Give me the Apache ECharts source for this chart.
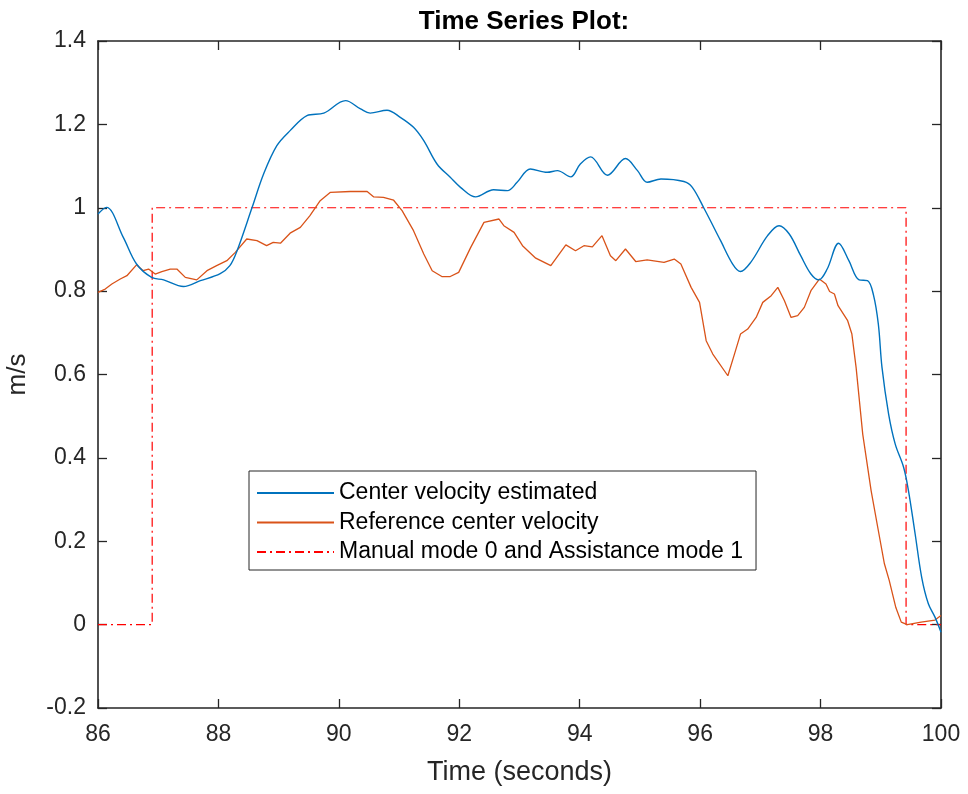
<!DOCTYPE html>
<html>
<head>
<meta charset="utf-8">
<script src="https://cdn.jsdelivr.net/npm/echarts@6/dist/echarts.min.js"></script>
<style>html,body{margin:0;padding:0;background:#fff}#c{width:968px;height:794px}</style>
</head>
<body>
<div id="c"></div>
<script>
const titleText = 'Time Series Plot:';
const xName = 'Time (seconds)';
const yName = 'm/s';
const seriesNames = ['Center velocity estimated', 'Reference center velocity', 'Manual mode 0 and Assistance mode 1'];

const estT = [86.0,86.14,86.42,86.64,86.89,87.09,87.42,87.70,88.03,88.19,88.31,88.56,88.75,88.97,89.19,89.47,89.75,90.11,90.36,90.52,90.80,91.02,91.24,91.41,91.63,91.85,92.02,92.27,92.57,92.80,92.96,93.18,93.46,93.63,93.85,94.01,94.18,94.46,94.76,94.96,95.12,95.35,95.73,95.87,96.07,96.34,96.54,96.67,96.84,97.12,97.31,97.48,97.67,97.84,97.97,98.11,98.30,98.47,98.64,98.78,98.88,98.96,99.02,99.13,99.24,99.38,99.46,99.57,99.68,99.79,99.90,100.0];
const estV = [0.985,1.001,0.929,0.865,0.833,0.827,0.811,0.825,0.842,0.861,0.897,1.001,1.081,1.149,1.185,1.221,1.227,1.257,1.237,1.227,1.234,1.217,1.193,1.161,1.105,1.073,1.049,1.026,1.043,1.041,1.061,1.093,1.085,1.089,1.074,1.105,1.122,1.078,1.118,1.089,1.061,1.069,1.063,1.049,0.997,0.921,0.865,0.847,0.869,0.933,0.957,0.937,0.885,0.841,0.827,0.853,0.915,0.873,0.827,0.825,0.79,0.72,0.617,0.505,0.433,0.377,0.321,0.218,0.113,0.050,0.018,-0.018];

const refT = [86.0,86.12,86.23,86.37,86.48,86.64,86.75,86.84,86.95,87.06,87.20,87.31,87.45,87.64,87.81,87.97,88.14,88.28,88.47,88.64,88.80,88.91,89.03,89.19,89.36,89.52,89.69,89.86,90.19,90.47,90.58,90.74,90.91,91.05,91.24,91.41,91.55,91.71,91.85,91.99,92.19,92.41,92.66,92.74,92.91,93.05,93.27,93.52,93.77,93.93,94.07,94.21,94.37,94.51,94.60,94.76,94.93,95.12,95.40,95.57,95.68,95.85,95.99,96.10,96.21,96.46,96.57,96.67,96.79,96.93,97.04,97.18,97.29,97.40,97.51,97.62,97.73,97.84,97.98,98.09,98.15,98.23,98.29,98.45,98.52,98.59,98.70,98.84,98.95,99.06,99.14,99.25,99.34,99.44,99.67,99.90,100.0];
const refV = [0.797,0.805,0.817,0.829,0.837,0.863,0.849,0.853,0.841,0.847,0.853,0.853,0.833,0.827,0.849,0.861,0.873,0.893,0.925,0.921,0.909,0.917,0.915,0.939,0.953,0.981,1.017,1.037,1.039,1.039,1.026,1.025,1.018,0.993,0.945,0.889,0.849,0.835,0.835,0.845,0.905,0.965,0.973,0.957,0.941,0.909,0.879,0.861,0.911,0.897,0.909,0.906,0.933,0.885,0.873,0.901,0.871,0.875,0.869,0.877,0.865,0.809,0.773,0.681,0.649,0.597,0.649,0.697,0.709,0.737,0.773,0.789,0.809,0.777,0.737,0.741,0.761,0.801,0.829,0.817,0.799,0.793,0.765,0.729,0.697,0.617,0.457,0.321,0.233,0.146,0.106,0.041,0.006,0.0,0.006,0.011,0.022];

const modeT = [86.0,86.9,86.9,99.42,99.42,100.0];
const modeV = [0,0,1,1,0,0];

const zip = (a,b) => a.map((v,i)=>[v,b[i]]);
const font = 'Arial, "Liberation Sans", Helvetica, sans-serif';
const axisCol = '#262626';

const chart = echarts.init(document.getElementById('c'), null, {renderer:'canvas'});
chart.setOption({
  animation:false,
  backgroundColor:'#fff',
  title:{text:titleText,left:519,top:4,textAlign:'center',textStyle:{fontFamily:font,fontSize:26,fontWeight:'bold',color:'#000'}},
  grid:{left:98,right:27,top:41,bottom:86,containLabel:false,outerBoundsMode:'none'},
  legend:{
    orient:'vertical',left:249,top:471,
    data:seriesNames,
    itemWidth:77,itemHeight:14,itemGap:3.5,
    padding:[9,13,5,7],
    borderColor:axisCol,borderWidth:1,backgroundColor:'#fff',borderRadius:0,
    itemStyle:{opacity:0},
    textStyle:{fontFamily:font,fontSize:23,color:'#000',lineHeight:26}
  },
  xAxis:[
    {type:'value',min:86,max:100,interval:2,position:'bottom',
     name:xName,nameLocation:'middle',nameGap:51,
     nameTextStyle:{fontFamily:font,fontSize:27,color:'#262626'},
     axisLine:{show:true,onZero:false,lineStyle:{color:axisCol,width:1.6}},
     axisTick:{show:true,inside:true,length:9,lineStyle:{color:axisCol,width:1.3}},
     axisLabel:{fontFamily:font,fontSize:23,color:'#262626',margin:15},
     splitLine:{show:false}},
    {type:'value',min:86,max:100,interval:2,position:'top',
     axisLine:{show:true,onZero:false,lineStyle:{color:axisCol,width:1.6}},
     axisTick:{show:true,inside:true,length:9,lineStyle:{color:axisCol,width:1.3}},
     axisLabel:{show:false},splitLine:{show:false}}
  ],
  yAxis:[
    {type:'value',min:-0.2,max:1.4,interval:0.2,position:'left',
     name:yName,nameLocation:'middle',nameGap:67,nameRotate:90,
     nameTextStyle:{fontFamily:font,fontSize:26,color:'#262626'},
     axisLine:{show:true,onZero:false,lineStyle:{color:axisCol,width:1.6}},
     axisTick:{show:true,inside:true,length:9,lineStyle:{color:axisCol,width:1.3}},
     axisLabel:{fontFamily:font,fontSize:23,color:'#262626',margin:12,
       formatter:v=>String(Math.round(v*10)/10)},
     splitLine:{show:false}},
    {type:'value',min:-0.2,max:1.4,interval:0.2,position:'right',
     axisLine:{show:true,onZero:false,lineStyle:{color:axisCol,width:1.6}},
     axisTick:{show:true,inside:true,length:9,lineStyle:{color:axisCol,width:1.3}},
     axisLabel:{show:false},splitLine:{show:false}}
  ],
  series:[
    {name:seriesNames[0],type:'line',data:zip(estT,estV),smooth:0.35,showSymbol:false,symbol:'none',
     lineStyle:{color:'#0072BD',width:1.4},itemStyle:{color:'#0072BD'},z:3},
    {name:seriesNames[1],type:'line',data:zip(refT,refV),smooth:false,showSymbol:false,symbol:'none',
     lineStyle:{color:'#D95319',width:1.3},itemStyle:{color:'#D95319'},z:2},
    {name:seriesNames[2],type:'line',data:zip(modeT,modeV),smooth:false,showSymbol:false,symbol:'none',
     lineStyle:{color:'#FF0000',width:1.2,type:[9,4,2,4]},itemStyle:{color:'#FF0000'},z:1}
  ]
});
</script>
</body>
</html>
